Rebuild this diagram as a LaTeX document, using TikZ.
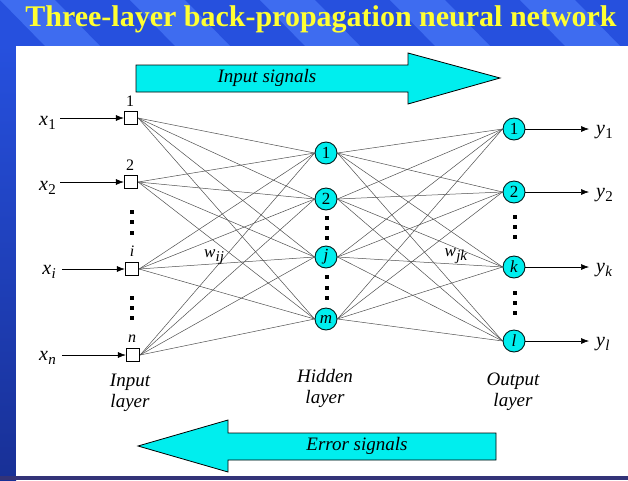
\documentclass[tikz,border=0pt]{standalone}
\usepackage{fontspec}
\setmainfont{Liberation Serif}
\usetikzlibrary{arrows.meta}
\definecolor{bgblue}{RGB}{38,80,222}
\definecolor{stripeblue}{RGB}{62,108,240}
\definecolor{darkstrip}{RGB}{24,48,150}
\definecolor{cyanfill}{RGB}{0,238,238}
\definecolor{titleyellow}{RGB}{255,255,50}
\definecolor{linkgray}{RGB}{80,80,80}
\pgfdeclarelayer{bglayer}
\pgfdeclarelayer{linklayer}
\pgfsetlayers{bglayer,linklayer,main}
\newcommand{\vsub}[2]{\textit{#1}\kern0.3pt\raisebox{-0.5ex}{\fontsize{15}{15}\selectfont #2}}
\tikzset{
  inbox/.style={draw=black, line width=0.8pt, fill=white, minimum size=13.5pt, inner sep=0pt},
  neuron/.style={circle, draw=black!80!teal, line width=0.9pt, fill=cyanfill, minimum size=22pt, inner sep=0pt, font=\fontsize{17}{17}\selectfont},
  varlabel/.style={font=\fontsize{20}{20}\selectfont, inner sep=0pt},
  toplabel/.style={font=\fontsize{16}{16}\selectfont, inner sep=0pt},
  layerlabel/.style={font=\fontsize{19}{21}\selectfont\itshape, align=center, inner sep=0pt},
  link/.style={draw=linkgray, line width=0.5pt},
  feed/.style={draw=black, line width=0.6pt, -{Latex[length=8pt,width=6pt]}},
  bigarrow/.style={draw=black, line width=0.8pt, fill=cyanfill},
  dotmark/.style={fill=black}
}
\begin{document}
\begin{tikzpicture}[x=1pt,y=-1pt]
\useasboundingbox (0,0) rectangle (628,480);
% background
\begin{pgfonlayer}{bglayer}
\fill[bgblue] (0,0) rectangle (628,480);
\begin{scope}
\clip (0,0) rectangle (628,46);
\foreach \s in {0,130,260,390,520,650}
  \fill[stripeblue] (\s,0) -- (\s+55,0) -- (\s+100,46) -- (\s+45,46) -- cycle;
\end{scope}
\shade[top color=bgblue, bottom color=darkstrip] (0,46) rectangle (16,480);
\fill[white] (16,46) rectangle (628,476);
\fill[black!55!blue!60!gray] (0,476) rectangle (628,480);
\end{pgfonlayer}
% title
\node[font=\fontsize{30}{30}\selectfont\bfseries, text=titleyellow, inner sep=0pt] (title) at (321,19) {Three-layer back-propagation neural network};
% big arrows
\draw[bigarrow] (136,65) -- (408,65) -- (408,53) -- (500,78) -- (408,104) -- (408,92) -- (136,92) -- cycle;
\node[layerlabel] (insig) at (267,78) {Input signals};
\draw[bigarrow] (496,433) -- (228,433) -- (228,420) -- (138,446) -- (228,472) -- (228,460) -- (496,460) -- cycle;
\node[layerlabel] (errsig) at (357,446) {Error signals};
% input layer
\node[inbox] (in1) at (131,118) {};
\node[inbox] (in2) at (131,182) {};
\node[inbox] (ini) at (132,269) {};
\node[inbox] (inn) at (133,355) {};
\node[toplabel] (t1) at (130,101) {1};
\node[toplabel] (t2) at (130,165) {2};
\node[toplabel] (ti) at (132,251) {\textit{i}};
\node[toplabel] (tn) at (132,339) {\textit{n}};
\node[varlabel, anchor=east] (x1) at (56,123) {\vsub{x}{1}};
\node[varlabel, anchor=east] (x2) at (56,188) {\vsub{x}{2}};
\node[varlabel, anchor=east] (xi) at (56,272) {\vsub{x}{\textit{i}}};
\node[varlabel, anchor=east] (xn) at (56,358) {\vsub{x}{\textit{n}}};
\coordinate (a1) at (60,118);
\coordinate (a2) at (60,182);
\coordinate (ai) at (62,269);
\coordinate (an) at (62,355);
\draw[feed] (a1) -- (in1.west);
\draw[feed] (a2) -- (in2.west);
\draw[feed] (ai) -- (ini.west);
\draw[feed] (an) -- (inn.west);
% hidden layer
\node[neuron] (h1) at (326,153) {1};
\node[neuron] (h2) at (326,199) {2};
\node[neuron] (hj) at (326,257) {\textit{j}};
\node[neuron] (hm) at (326,319) {\textit{m}};
% output layer
\node[neuron] (o1) at (514,129) {1};
\node[neuron] (o2) at (514,192) {2};
\node[neuron] (ok) at (514,267) {\textit{k}};
\node[neuron] (ol) at (514,341) {\textit{l}};
\node[varlabel, anchor=west] (y1) at (596,132) {\vsub{y}{1}};
\node[varlabel, anchor=west] (y2) at (596,195) {\vsub{y}{2}};
\node[varlabel, anchor=west] (yk) at (596,270) {\vsub{y}{\textit{k}}};
\node[varlabel, anchor=west] (yl) at (596,344) {\vsub{y}{\textit{l}}};
\coordinate (e1) at (589,129);
\coordinate (e2) at (589,192);
\coordinate (ek) at (589,267);
\coordinate (el) at (589,341);
\draw[feed] (o1.east) -- (e1);
\draw[feed] (o2.east) -- (e2);
\draw[feed] (ok.east) -- (ek);
\draw[feed] (ol.east) -- (el);
% links
\begin{pgfonlayer}{linklayer}
\foreach \a in {in1,in2,ini,inn}
  \foreach \b in {h1,h2,hj,hm}
    \draw[link] (\a.east) -- (\b.west);
\foreach \a in {h1,h2,hj,hm}
  \foreach \b in {o1,o2,ok,ol}
    \draw[link] (\a.east) -- (\b.west);
\end{pgfonlayer}
% weight labels
\node[font=\fontsize{17}{17}\selectfont, inner sep=0pt] (wij) at (214,257) {\vsub{w}{\textit{ij}}};
\node[font=\fontsize{17}{17}\selectfont, inner sep=0pt] (wjk) at (456,256) {\vsub{w}{\textit{jk}}};
% dots
\foreach \p in {{132,212},{132,222},{132,233},{132,298},{132,308},{132,318},
                {327,218},{327,228},{327,238},{327,277},{327,288},{327,298},
                {515,217},{515,227},{515,237},{515,293},{515,303},{515,313}}
  \fill[dotmark] (\p) ++(-1.6,-1.6) rectangle ++(3.2,3.2);
% layer labels
\node[layerlabel] (inl) at (130,393) {Input\\layer};
\node[layerlabel] (hidl) at (325,388) {Hidden\\layer};
\node[layerlabel] (outl) at (513,392) {Output\\layer};
\end{tikzpicture}
\end{document}
